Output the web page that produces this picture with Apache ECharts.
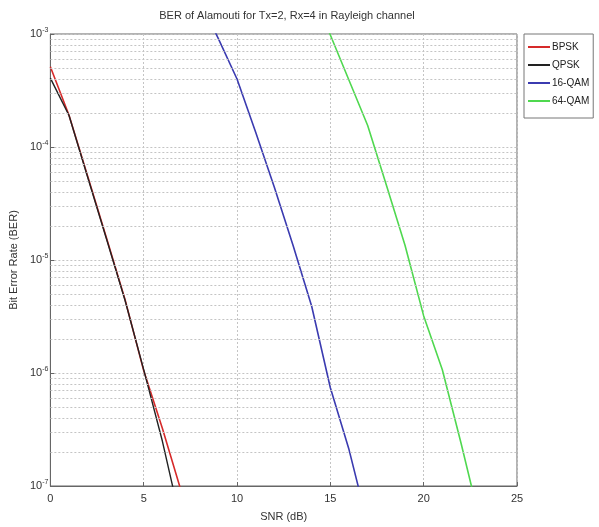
<!DOCTYPE html>
<html>
<head>
<meta charset="utf-8">
<script src="https://cdn.jsdelivr.net/npm/echarts@6/dist/echarts.min.js"></script>
<style>
  html, body { margin: 0; padding: 0; background: #fff; }
  #chart { width: 599px; height: 527px; }
</style>
</head>
<body>
<div id="chart"></div>
<script>
// SNR points (dB) and simulated bit error rates for each modulation
const snrBpskQpsk = [0, 1, 2, 3, 4, 5, 6, 7];
const berBpsk = [5.13e-4, 1.91e-4, 5.5e-5, 1.58e-5, 4.47e-6, 1.05e-6, 3.24e-7, 9.1e-8];
const berQpsk = [4.07e-4, 1.9e-4, 5.4e-5, 1.55e-5, 4.4e-6, 1.07e-6, 2.5e-7, 4.7e-8];

const snr16Qam = [8, 9, 10, 11, 12, 13, 14, 15, 16, 17];
const ber16Qam = [2.0e-3, 9.1e-4, 4.0e-4, 1.35e-4, 4.4e-5, 1.35e-5, 3.9e-6, 7.4e-7, 2.1e-7, 4.6e-8];

const snr64Qam = [14, 15, 16, 17, 18, 19, 20, 21, 22, 23];
const ber64Qam = [2.4e-3, 9.8e-4, 3.9e-4, 1.55e-4, 4.6e-5, 1.35e-5, 3.2e-6, 1.07e-6, 2.4e-7, 5.0e-8];

const seriesNames = ['BPSK', 'QPSK', '16-QAM', '64-QAM'];
const xTicks = [0, 5, 10, 15, 20, 25];
const yDecades = [1e-7, 1e-6, 1e-5, 1e-4, 1e-3];

const pairs = (xs, ys) => xs.map((x, i) => [x, ys[i]]);

// minor grid rows at 2..9 x 10^n inside each decade, placed on a
// linear helper axis that measures log10(BER)
const minorRows = [];
for (let d = 0; d < yDecades.length - 1; d++) {
  for (let k = 2; k <= 9; k++) minorRows.push({ yAxis: Math.log10(k * yDecades[d]) });
}

const font = 'Liberation Sans, Arial, sans-serif';
const gridDash = { color: '#c4c4c4', type: [2, 2], width: 1 };

const chart = echarts.init(document.getElementById('chart'));
chart.setOption({
  animation: false,
  backgroundColor: '#fff',
  textStyle: { fontFamily: font },
  title: {
    text: 'BER of Alamouti for Tx=2, Rx=4 in Rayleigh channel',
    left: 282, top: 5, textAlign: 'center',
    textStyle: { fontSize: 11, fontWeight: 'normal', color: '#333', fontFamily: font }
  },
  legend: {
    data: seriesNames,
    orient: 'vertical',
    left: 524, top: 34,
    itemWidth: 22, itemHeight: 2, itemGap: 8,
    icon: 'rect',
    padding: [8, 4, 12, 4],
    borderColor: '#777', borderWidth: 1,
    textStyle: { fontSize: 10, color: '#222', padding: [0, 0, 0, -3] }
  },
  grid: {
    left: 48, right: 82, top: 34, bottom: 40,
    show: true, borderColor: '#666', borderWidth: 1
  },
  xAxis: {
    type: 'value', min: 0, max: 25, interval: 5,
    name: 'SNR (dB)', nameLocation: 'middle', nameGap: 25,
    nameTextStyle: { fontSize: 11, color: '#333' },
    axisLine: { lineStyle: { color: '#666' } },
    axisTick: { inside: true, length: 4, lineStyle: { color: '#666' } },
    axisLabel: {
      color: '#333', fontSize: 11, margin: 7,
      formatter: v => xTicks.includes(v) ? String(v) : ''
    },
    splitLine: { show: true, lineStyle: gridDash }
  },
  yAxis: [
    {
      type: 'log', logBase: 10, min: 1e-7, max: 1e-3,
      name: 'Bit Error Rate (BER)', nameLocation: 'middle', nameGap: 27,
      nameTextStyle: { fontSize: 11, color: '#333' },
      axisLine: { lineStyle: { color: '#666' } },
      axisTick: { inside: true, length: 4, lineStyle: { color: '#666' } },
      axisLabel: {
        margin: 2,
        formatter: v => '{b|10}{s|' + Math.round(Math.log10(v)) + '}',
        rich: {
          b: { fontSize: 11, color: '#333', fontFamily: font },
          s: { fontSize: 7, color: '#333', fontFamily: font, verticalAlign: 'top', padding: [0, 0, 7, 0] }
        }
      },
      splitLine: { show: true, lineStyle: gridDash }
    },
    {
      // helper axis in log10 units, used only to place the minor grid rows
      type: 'value', min: -7, max: -3, position: 'left',
      show: false, splitLine: { show: false }
    }
  ],
  series: [
    {
      name: 'minor-grid', type: 'line', yAxisIndex: 1, data: [],
      silent: true, z: 1,
      markLine: {
        silent: true, symbol: 'none', label: { show: false },
        animation: false, lineStyle: gridDash, data: minorRows
      }
    },
    {
      name: 'BPSK', type: 'line', data: pairs(snrBpskQpsk, berBpsk),
      symbol: 'none', lineStyle: { color: '#d62a2a', width: 1.6 }, itemStyle: { color: '#d62a2a' }, z: 3
    },
    {
      name: 'QPSK', type: 'line', data: pairs(snrBpskQpsk, berQpsk),
      symbol: 'none', lineStyle: { color: '#222', width: 1.4 }, itemStyle: { color: '#222' }, z: 4
    },
    {
      name: '16-QAM', type: 'line', data: pairs(snr16Qam, ber16Qam),
      symbol: 'none', lineStyle: { color: '#3b3bb0', width: 1.6 }, itemStyle: { color: '#3b3bb0' }, z: 3
    },
    {
      name: '64-QAM', type: 'line', data: pairs(snr64Qam, ber64Qam),
      symbol: 'none', lineStyle: { color: '#4fd84f', width: 1.6 }, itemStyle: { color: '#4fd84f' }, z: 3
    }
  ]
});
</script>
</body>
</html>
